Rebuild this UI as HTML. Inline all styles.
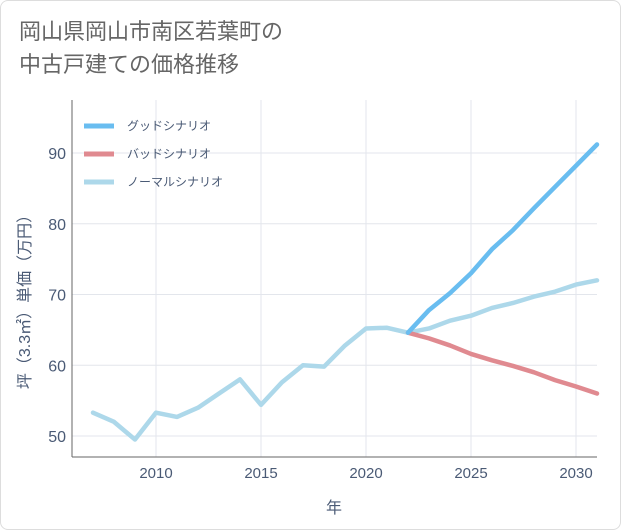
<!DOCTYPE html>
<html><head><meta charset="utf-8"><style>
body{margin:0;background:#fff;font-family:"Liberation Sans","Noto Sans CJK JP",sans-serif;}
#wrap{position:relative;width:619px;height:528px;border:1px solid #ddd;border-radius:8px;background:#fff;overflow:hidden}
#title{position:absolute;left:18px;top:14px;font-size:22px;line-height:33px;color:#666;font-family:"Liberation Sans","Noto Sans CJK JP",sans-serif;}
</style></head><body>
<div id="wrap">
<div id="title">岡山県岡山市南区若葉町の<br>中古戸建ての価格推移</div>
<svg id="chart" width="621" height="530" style="position:absolute;left:-1px;top:-1px"></svg>
</div>
<script>
const years=[2007,2008,2009,2010,2011,2012,2013,2014,2015,2016,2017,2018,2019,2020,2021,2022,2023,2024,2025,2026,2027,2028,2029,2030,2031];
const normalVals=[53.3,52,49.5,53.3,52.7,54,56,58,54.4,57.6,60,59.8,62.8,65.2,65.3,64.6,65.2,66.3,67,68.1,68.8,69.7,70.4,71.4,72];
const futureYears=[2022,2023,2024,2025,2026,2027,2028,2029,2030,2031];
const goodVals=[64.6,67.8,70.2,73,76.4,79.1,82.2,85.2,88.2,91.2];
const badVals=[64.6,63.8,62.8,61.6,60.7,59.9,59,57.9,57,56];
const xTicks=[2010,2015,2020,2025,2030];
const yTicks=[50,60,70,80,90];
const legendLabels=["グッドシナリオ","バッドシナリオ","ノーマルシナリオ"];
const NS="http://www.w3.org/2000/svg";
const svg=document.getElementById('chart');
const L=72,R=597,T=100,B=457;
const x=v=>156+(v-2010)*21;
const y=v=>436-(v-50)*7.075;
function el(t,a){const e=document.createElementNS(NS,t);for(const k in a)e.setAttribute(k,a[k]);svg.appendChild(e);return e;}
const bg=el('rect',{x:L,y:T,width:R-L,height:B-T,fill:'#fff',stroke:'none'});


xTicks.forEach(t=>{
 const g=el('line',{x1:x(t),x2:x(t),y1:T,y2:B,stroke:'#e3e6ec'});
 
 
 const tx=el('text',{x:x(t),y:478,'text-anchor':'middle','font-size':'15',fill:'#4a5a75'});tx.textContent=t;
 
 
});
yTicks.forEach(t=>{
 const g=el('line',{x1:L,x2:R,y1:y(t),y2:y(t),stroke:'#e3e6ec'});
 
 
 const tx=el('text',{x:66,y:y(t)+6,'text-anchor':'end','font-size':'16',fill:'#4a5a75'});tx.textContent=t;
 
 
});
const ax=el('line',{x1:L,x2:R,y1:B,y2:B,stroke:'#666'});


const ay=el('line',{x1:L,x2:L,y1:T,y2:B,stroke:'#666'});


function line(xs,vs,c,name){
 const p=el('polyline',{points:xs.map((d,i)=>x(d)+','+y(vs[i])).join(' '),fill:'none',stroke:c,'stroke-width':4.5,'stroke-linejoin':'round','stroke-linecap':'round'});
 
 
}
line(years,normalVals,'#add8ea','normal-scenario-line');
line(futureYears,badVals,'#e08a90','bad-scenario-line');
line(futureYears,goodVals,'#69bdf0','good-scenario-line');
const cols=['#69bdf0','#e08a90','#add8ea'];
legendLabels.forEach((s,i)=>{
 const yy=126+i*28;
 const l=el('line',{x1:84,x2:114,y1:yy,y2:yy,stroke:cols[i],'stroke-width':5});
 
 
 const t=el('text',{x:127,y:yy+4,'font-size':'12',fill:'#4a5a75'});t.textContent=s;
 
 
});
const xt=el('text',{x:334,y:513,'text-anchor':'middle','font-size':'16',fill:'#4a5a75'});xt.textContent='年';


const yt=el('text',{x:0,y:0,'text-anchor':'middle','font-size':'16',fill:'#4a5a75',transform:'translate(30,298) rotate(-90)'});yt.textContent='坪（3.3㎡）単価（万円）';


</script>
</body></html>
